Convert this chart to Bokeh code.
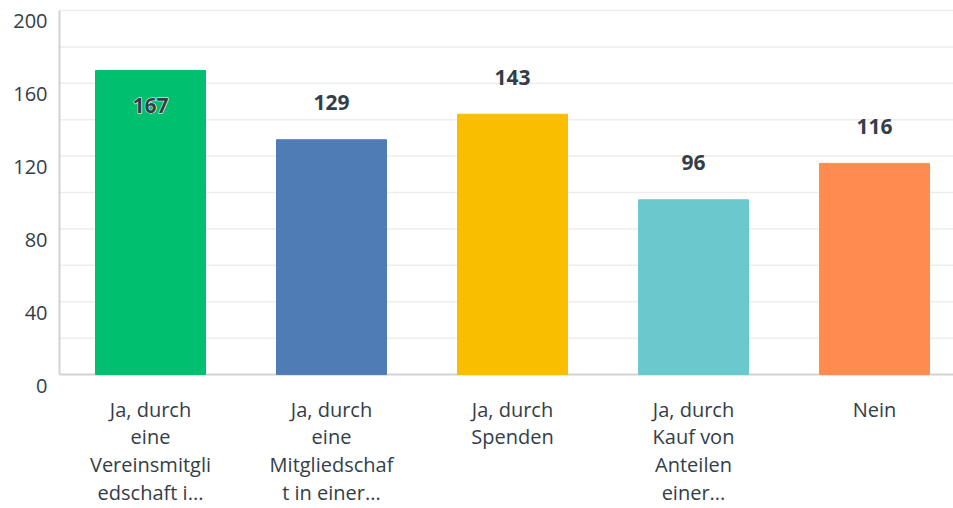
from bokeh.plotting import figure
from bokeh.models import FixedTicker, Range1d, ColumnDataSource
from bokeh.core.properties import value
from bokeh.embed import file_html
from bokeh.resources import INLINE

categories = [
    "Ja, durch\neine\nVereinsmitgli\nedschaft i...",
    "Ja, durch\neine\nMitgliedschaf\nt in einer...",
    "Ja, durch\nSpenden",
    "Ja, durch\nKauf von\nAnteilen\neiner...",
    "Nein",
]
counts = [167, 129, 143, 96, 116]
colors = ["#00bf6f", "#507cb6", "#f9be00", "#6bc8cd", "#ff8b4f"]
y_ticks = [0, 40, 80, 120, 160, 200]
grid_ticks = list(range(20, 201, 20))

FONT = "Open Sans"
TXT = "#333e48"
AXIS = "#d2d2d2"
GRID = "#ededed"

# ---- layout (pixels) ----
W, H = 953, 508
AXIS_LEFT_PX = 59          # y axis line position
TOP_PX, ZERO_PX, FRAME_BOTTOM_PX = 10, 375, 394
FIRST_CENTER_PX, STEP_PX = 150, 181
ymax = 200
u_per_px = ymax / (ZERO_PX - TOP_PX)
y_start = -(FRAME_BOTTOM_PX - ZERO_PX) * u_per_px
y_end = ymax + TOP_PX * u_per_px
x_start = -FIRST_CENTER_PX / STEP_PX
x_end = (W - FIRST_CENTER_PX) / STEP_PX
axis_x = (AXIS_LEFT_PX - FIRST_CENTER_PX) / STEP_PX

xs = list(range(len(categories)))
# value label above the bar, or inside it when the bar is near the top
inside = [c > 0.8 * ymax for c in counts]
offsets = [35 if i else -37 for i in inside]
halo = ["white" if i else None for i in inside]

src = ColumnDataSource(dict(x=xs, top=counts, color=colors,
                            label=[str(c) for c in counts],
                            yoff=offsets, halo=halo))

p = figure(width=W, height=H, output_backend="svg", toolbar_location=None,
           x_range=Range1d(x_start, x_end), y_range=Range1d(y_start, y_end),
           min_border_left=0, min_border_top=0, min_border_right=0,
           min_border_bottom=H - FRAME_BOTTOM_PX)
p.outline_line_color = None
p.yaxis.visible = False
p.xgrid.grid_line_color = None
p.ygrid.grid_line_color = None

# gridlines and axis lines, starting at the y axis
p.segment(x0=axis_x, x1=x_end, y0=grid_ticks, y1=grid_ticks,
          line_color=GRID, line_width=1.5)
p.segment(x0=axis_x, x1=x_end, y0=0, y1=0, line_color=AXIS, line_width=2)
p.segment(x0=axis_x, x1=axis_x, y0=0, y1=ymax, line_color=AXIS, line_width=2)

p.vbar(x="x", top="top", width=110 / STEP_PX, color="color", source=src)
label_style = dict(x="x", y="top", text="label", y_offset="yoff", source=src,
                   text_align="center", text_baseline="middle",
                   text_font=value(FONT), text_font_style="bold",
                   text_font_size="21px")
p.text(text_color="halo", text_outline_color="halo", **label_style)
p.text(text_color=TXT, **label_style)

# y tick labels, a little below their gridlines
p.text(x=axis_x, y=y_ticks, text=[str(t) for t in y_ticks],
       x_offset=-12, y_offset=11, text_align="right", text_baseline="middle",
       text_font=value(FONT), text_font_size="20px", text_color=TXT)

ax = p.xaxis[0]
ax.ticker = FixedTicker(ticks=xs)
ax.major_label_overrides = {i: c for i, c in enumerate(categories)}
ax.axis_line_color = None
ax.major_tick_line_color = None
ax.minor_tick_line_color = None
ax.major_tick_out = 0
ax.major_tick_in = 0
ax.major_label_text_font = FONT
ax.major_label_text_color = TXT
ax.major_label_text_font_size = "20px"
ax.major_label_standoff = 2
ax.major_label_text_line_height = 1.03

open("out.html", "w").write(file_html(p, INLINE))
